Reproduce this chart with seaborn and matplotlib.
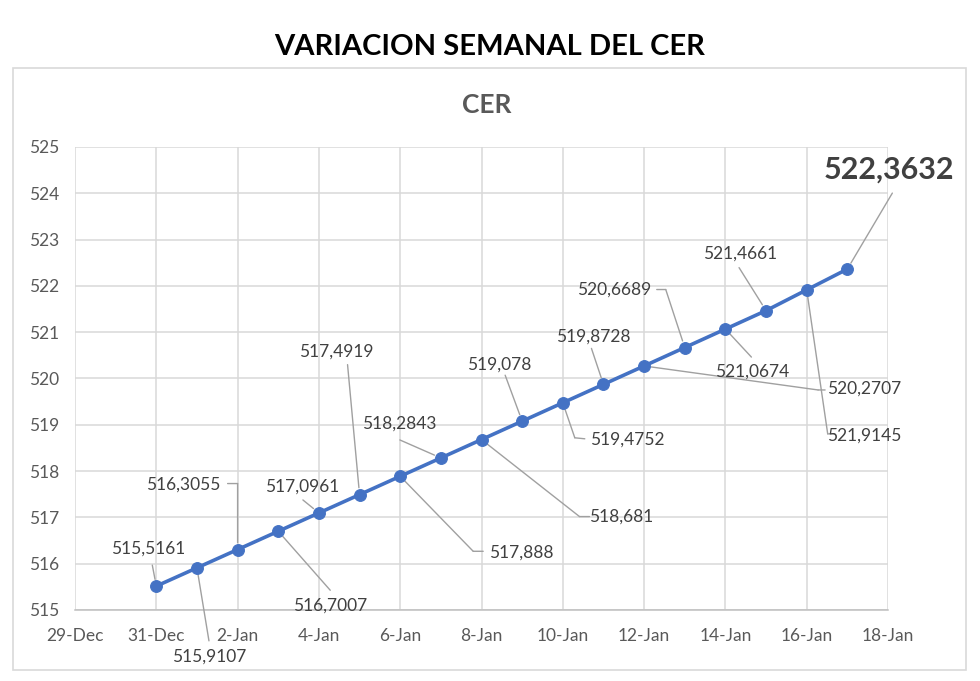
import matplotlib
matplotlib.use("Agg")
import matplotlib.pyplot as plt
import matplotlib.dates as mdates
from matplotlib.transforms import offset_copy
from matplotlib.patches import Rectangle
import seaborn as sns
import pandas as pd

# ---- data ----
dates = pd.date_range("2024-12-31", "2025-01-17", freq="D")
cer_values = [515.5161, 515.9107, 516.3055, 516.7007, 517.0961, 517.4919,
              517.888, 518.2843, 518.681, 519.078, 519.4752, 519.8728,
              520.2707, 520.6689, 521.0674, 521.4661, 521.9145, 522.3632]
tick_dates = pd.date_range("2024-12-29", "2025-01-18", freq="2D")
y_ticks = [515, 516, 517, 518, 519, 520, 521, 522, 523, 524, 525]
title = "VARIACION SEMANAL DEL CER"
subtitle = "CER"

# label layout: text offset (px, screen y-down) and leader path offsets
label_offsets = [(-8, -37), (12, 89), (-54, -65), (52, 74), (-17, -26), (-23, -143),
                 (121, 76), (-42, -34), (140, 77), (-23, -57), (64, 37), (-10, -48),
                 (220, 23), (-71, -58), (27, 43), (-26, -57), (58, 146), (42, -99)]
leader_paths = [[(-4, -21)], [(12, 73)], [(0, -66), (-10, -66)], [(52, 59)],
                [(-16, -13)], [(-12, -130)], [(73, 75), (83, 75)], [(-41, -18)],
                [(98, 77), (108, 77)], [(-17, -46)], [(12, 35), (22, 36)],
                [(-12, -36)], [(174, 24), (181, 24)], [(-19, -58), (-28, -58)],
                [(26, 28)], [(-27, -43)], [(21, 144), (28, 144)], [(45, -76)]]

df = pd.DataFrame({"fecha": dates, "CER": cer_values})

sns.set_theme(style="white")
plt.rcParams["font.family"] = ["Lato", "DejaVu Sans"]

fig = plt.figure(figsize=(9.8, 6.81), dpi=100)
ax = fig.add_axes([75 / 980, 1 - 610 / 681, (888 - 75) / 980, (610 - 147) / 681])

# outer chart border
fig.patches.append(Rectangle((13 / 980, 1 - 670 / 681), (966 - 13) / 980, (670 - 68) / 681,
                             transform=fig.transFigure, fill=False,
                             edgecolor="#D9D9D9", linewidth=1.2, zorder=0))

sns.lineplot(data=df, x="fecha", y="CER", ax=ax, color="#4472C4", linewidth=2.6,
             marker="o", markersize=8.5, markeredgecolor="#4472C4", zorder=5)

ax.set_xlim(tick_dates[0], tick_dates[-1])
ax.set_ylim(y_ticks[0], y_ticks[-1])
ax.set_xticks(tick_dates)
ax.xaxis.set_major_formatter(mdates.DateFormatter("%-d-%b"))
ax.set_yticks(y_ticks)
ax.grid(True, color="#D9D9D9", linewidth=1.1)
ax.set_axisbelow(True)
for s in ["top", "right", "left"]:
    ax.spines[s].set_visible(False)
ax.spines["bottom"].set_color("#BFBFBF")
ax.spines["bottom"].set_linewidth(1.1)
ax.tick_params(axis="both", length=0, labelsize=12.5, labelcolor="#595959")
ax.tick_params(axis="x", pad=13)
for lab in ax.get_yticklabels():
    lab.set_horizontalalignment("left")
ax.yaxis.set_tick_params(pad=33)
ax.set_xlabel("")
ax.set_ylabel("")

fig.text(0.5, 1 - 47 / 681, title, ha="center", va="center", fontsize=21,
         fontweight="bold", color="black")
fig.text(487 / 980, 1 - 105 / 681, subtitle, ha="center", va="center", fontsize=19,
         fontweight="bold", color="#595959")

xnum = mdates.date2num(dates)
n = len(cer_values)
for i, (xv, yv) in enumerate(zip(xnum, cer_values)):
    dx, dy = label_offsets[i]
    txt = f"{yv:.4f}".rstrip("0").replace(".", ",")
    last = i == n - 1
    ax.annotate(txt, xy=(xv, yv), xytext=(dx, -dy), textcoords="offset pixels",
                ha="center", va="center",
                fontsize=22 if last else 12.5,
                fontweight="bold" if last else "normal",
                color="#404040", zorder=6, annotation_clip=False)
    # leader line
    pts = [(0, 0)] + leader_paths[i]
    for j in range(len(pts) - 1):
        a, b = pts[j], pts[j + 1]
        ta = offset_copy(ax.transData, fig=fig, x=a[0], y=-a[1], units="dots")
        tb = offset_copy(ax.transData, fig=fig, x=b[0], y=-b[1], units="dots")
        ax.annotate("", xy=(xv, yv), xycoords=ta, xytext=(xv, yv), textcoords=tb,
                    arrowprops=dict(arrowstyle="-", color="#A0A0A0", lw=1.0,
                                    shrinkA=0, shrinkB=5 if j == 0 else 0),
                    zorder=4, annotation_clip=False)

fig.savefig("out.png", dpi=100)
